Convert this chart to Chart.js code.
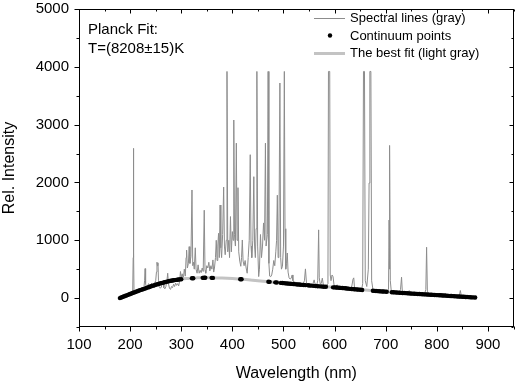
<!DOCTYPE html>
<html><head><meta charset="utf-8">
<script src="https://cdn.jsdelivr.net/npm/chart.js@4.4.1/dist/chart.umd.min.js"></script>
<style>html,body{margin:0;padding:0;background:#fff}#wrap{width:515px;height:383px;position:relative}canvas{display:block}</style>
</head><body><div id="wrap"><canvas id="c" width="515" height="383"></canvas></div>
<script>
// ---- data ----
const specWl = [
180,183,186,189,192,195,198,201,203,205,206,206.5,207,207.6,210,213,216,219,222,225,227,228.3,229.3,230.3,232,234,236,238,240,242,
244,246,248,250,251.5,252.5,253.5,254.5,255.5,257,259,261,263,264.5,266,268,270,272,273.5,275,277,279,281,283,285,287,289,291,293,295,
297,298.5,300,302,304,306,308,309.5,310.5,312,314,315.5,317,319,321,322.5,324,325.5,327.5,329,331,333,335,337,339,341,343,345,346.5,348,
350,352,354,356,358,360,362,363.5,365,367,368.5,370,371.5,373,374.5,376,377.5,379,381,383,384.5,386,388,389.5,391,393,394.5,396.3,398,400,
401.5,402.8,404.2,406,407.8,409.2,411,412.5,414.5,416.5,418,419.5,421,423,425,427,429,431,433,435,436.5,438,440,442,443.5,445,446.5,448,449.5,451.5,
453,455,457,459,461,463,464.7,466,468.5,470,471.5,473,475,477,479,481,483,485,486.5,488,489.5,491,493,494.5,496,498,500,501.7,503,504.5,
506,507.5,509,511,513,515,517,518.5,521,524,527,530,533,536,539,541,543,545,548,551,554,557,560,562,565,567,568.8,570,572,574,
576,578,581,584,587,588,590.5,591.5,593,595,597,599,602,605,608,612,616,620,623,627,630,633,636,637.5,639,642,646,650,653,655,
656.5,658.5,660,663,666,667.5,669,671,672.5,675,678,681,684,688,692,696,700,703,705.5,706.6,707.2,708,709,711,714,718,722,726,729,731,
732.5,736,740,744,746,748,752,756,760,764,768,772,776,778.5,780,781.5,785,790,795,800,806,812,817,819,825,830,835,840,844,846,
848,852,858,864,870,875];
const specInt = [
5,15,28,38,45,55,62,75,85,95,700,2590,800,110,115,125,118,140,150,165,180,300,510,250,170,200,250,210,190,260,
200,230,260,300,450,620,560,610,300,200,170,190,260,300,180,160,200,300,430,250,170,150,200,180,240,200,260,220,250,210,
300,460,360,420,320,500,380,700,830,520,600,890,600,720,1870,560,620,500,870,500,430,575,430,480,440,520,460,1520,480,430,
560,520,620,470,560,500,660,450,520,700,1000,650,900,1120,700,1610,870,700,1100,1920,900,750,1000,3920,800,1000,700,1410,800,1150,
1000,3080,1100,900,2680,1000,1910,800,640,550,700,1005,640,560,650,520,430,700,1000,2480,900,700,1000,2100,900,700,1200,3920,900,372,
500,1100,700,900,1300,1000,2680,900,1100,3920,600,380,370,400,500,650,560,800,1000,1780,700,900,3720,700,500,550,900,3920,1200,500,
600,780,450,350,330,340,400,300,280,270,260,250,250,240,260,300,505,260,240,230,240,230,315,230,220,300,1180,350,240,260,
345,230,220,210,250,3920,3920,400,300,400,370,220,200,230,190,180,200,190,175,170,180,170,327,350,170,160,160,150,150,250,
3920,3920,300,200,500,1990,3920,3920,300,150,130,140,125,120,115,110,110,120,150,1350,500,2640,300,110,100,95,100,90,150,362,
110,85,80,90,130,80,75,70,72,65,70,65,70,150,880,120,60,55,52,50,48,46,80,45,40,38,35,32,35,131,
40,25,22,20,15,12];
const contWl = [
180,182.5,185,187.5,190,192.5,195,197.5,200,202.5,205,207.5,210,212.5,215,217.5,220,222.5,225,227.5,230,232.5,235,237.5,240,242.5,245,247.5,250,252.5,
255,257.5,260,262.5,265,267.5,270,272.5,275,277.5,280,282.5,285,287.5,290,292.5,295,297.5,300,321,323.5,342,344.5,347,359.5,362,415.5,418,470.5,473,
484,487,495,498,501,504,507,510,513,516,519,522,525,528,531,534,537,540,543,548,551,555,559,563,567,571,575,579,583,597,
600,603,606,609,612,615,618,621,624,627,630,633,636,639,642,645,648,651,654,675,678,681,684,687,690,693,696,699,702,712,
715,718,721,724,727,730,733,736,739,742,745,748,751,754,757,760,763,766,769,772,775,778,781,784,787,790,793,796,799,802,
805,808,811,814,817,820,823,826,829,832,835,838,841,844,847,850,853,856,859,862,865,868,871,875];
const contInt = [
0,10,18,27,36,45,52,62,70,80,88,96,104,113,120,130,138,146,154,160,168,177,185,192,200,208,215,222,230,237,
244,251,257,263,268,274,280,285,290,295,300,304,308,311,315,318,321,324,327,342,344,350,351,352,350,349,327,325,283,281,
272,270,263,261,258,255,253,251,249,246,244,241,238,236,234,231,229,227,225,221,219,215,212,209,206,203,200,197,195,186,
185,183,181,178,176,174,172,169,166,163,160,158,155,153,150,148,146,143,141,127,125,123,121,119,117,115,113,112,110,102,
100,98,97,95,93,91,89,87,86,84,82,80,78,77,75,73,71,70,68,67,65,64,62,60,58,57,55,54,52,51,
49,48,46,44,43,41,39,37,36,34,32,30,28,27,25,24,22,20,19,17,15,13,12,10];
const fitWl = [178,190,200,210,220,230,240,250,260,270,280,290,300,310,320,330,340,350,360,370,380,390,400,420,440,460,480,500,520,540,
560,580,600,620,640,660,680,700,720,740,760,780,800,820,840,860,878];
const fitInt = [-5,35,69,104,138,168,200,230,257,280,300,315,327,337,344,349,352,352,351,349,346,342,337,325,309,292,276,260,245,228,
213,198,185,171,154,140,126,112,98,86,74,63,52,42,29,18,8];
const xTickLabels = [100,200,300,400,500,600,700,800,900];
const yTickLabels = [0,1000,2000,3000,4000,5000];
const seriesNames = ['Spectral lines (gray)','Continuum points','The best fit (light gray)'];
const noteLines = ['Planck Fit:','T=(8208\u00b115)K'];
const xTitle = 'Wavelength (nm)';
const yTitle = 'Rel. Intensity';

const FONT = '"Liberation Sans", Arial, sans-serif';
const pts = (xs, ys) => xs.map((x, i) => ({x, y: ys[i]}));

const framePlugin = {
  id: 'frame',
  afterDraw(chart) {
    const {ctx, chartArea: a, scales: {x, y}} = chart;
    ctx.save();
    ctx.strokeStyle = '#000'; ctx.lineWidth = 1;
    const L = Math.round(a.left) + 0.5, R = Math.round(a.right) - 0.5;
    const T = Math.round(a.top) + 0.5, B = Math.round(a.bottom) - 0.5;
    ctx.strokeRect(L, T, R - L, B - T);
    ctx.beginPath();
    for (let v = x.min; v <= x.max; v += 50) {
      const major = v % 100 === 0;
      const p = Math.round(x.getPixelForValue(v)) + 0.5;
      ctx.moveTo(p, B); ctx.lineTo(p, B + (major ? 5 : 3));
      ctx.moveTo(p, T); ctx.lineTo(p, T + (major ? 4 : 2));
    }
    for (let v = y.min; v <= y.max; v += 500) {
      const major = v % 1000 === 0;
      const p = Math.round(y.getPixelForValue(v)) + 0.5;
      ctx.moveTo(L, p); ctx.lineTo(L - (major ? 5 : 3), p);
      ctx.moveTo(R, p); ctx.lineTo(R - (major ? 4 : 2), p);
    }
    ctx.stroke();
    // annotation
    ctx.fillStyle = '#000';
    ctx.font = '15px ' + FONT;
    ctx.textBaseline = 'middle'; ctx.textAlign = 'left';
    noteLines.forEach((t, i) => ctx.fillText(t, a.left + 9, a.top + 21 + i * 19));
    // legend
    const ds = chart.data.datasets;
    ctx.font = '13px ' + FONT;
    const lx = 314, ly = a.top + 9, step = 17.5;
    seriesNames.forEach((name, i) => {
      const yy = ly + i * step;
      const d = ds[i];
      if (i === 1) {
        ctx.beginPath(); ctx.fillStyle = d.backgroundColor;
        ctx.arc(lx + 16, yy, d.pointRadius, 0, Math.PI * 2); ctx.fill();
      } else {
        ctx.beginPath(); ctx.strokeStyle = d.borderColor; ctx.lineWidth = d.borderWidth;
        ctx.moveTo(lx, Math.round(yy) + (d.borderWidth % 2 ? 0.5 : 0));
        ctx.lineTo(lx + 31, Math.round(yy) + (d.borderWidth % 2 ? 0.5 : 0)); ctx.stroke();
      }
      ctx.fillStyle = '#000';
      ctx.fillText(name, lx + 36, yy + 0.5);
    });
    ctx.restore();
  }
};

new Chart(document.getElementById('c'), {
  type: 'line',
  data: {
    datasets: [
      {label: seriesNames[0], data: pts(specWl, specInt), borderColor: '#8c8c8c', borderWidth: 1,
       pointRadius: 0, tension: 0, fill: false, order: 3},
      {label: seriesNames[1], data: pts(contWl, contInt), showLine: false, pointRadius: 2.2,
       backgroundColor: '#000', borderColor: '#000', borderWidth: 0, order: 1},
      {label: seriesNames[2], data: pts(fitWl, fitInt), borderColor: '#c3c3c3', borderWidth: 3,
       pointRadius: 0, tension: 0.4, cubicInterpolationMode: 'monotone', fill: false, order: 2}
    ]
  },
  options: {
    responsive: false, animation: false, devicePixelRatio: 1,
    layout: {autoPadding: false, padding: {left: 0, right: 1.5, top: 9, bottom: 0}},
    plugins: {legend: {display: false}, tooltip: {enabled: false}},
    scales: {
      x: {
        type: 'linear', min: 100, max: 950,
        afterBuildTicks: s => { s.ticks = xTickLabels.map(v => ({value: v})); },
        afterFit: s => { s.height = 56; s.paddingLeft = 0; s.paddingRight = 0; },
        grid: {display: false, drawTicks: false},
        border: {display: false},
        ticks: {color: '#000', font: {family: FONT, size: 15}, padding: 9, maxRotation: 0, autoSkip: false,
                callback: v => String(v)},
        title: {display: true, text: xTitle, color: '#000', font: {family: FONT, size: 16}, padding: {top: 0, bottom: 0}}
      },
      y: {
        type: 'linear', min: -500, max: 5000,
        afterBuildTicks: s => { s.ticks = yTickLabels.map(v => ({value: v})); },
        afterFit: s => { s.width = 79; s.paddingTop = 0; s.paddingBottom = 0; s.paddingRight = 0; s.paddingLeft = 0; },
        grid: {display: false, drawTicks: false},
        border: {display: false},
        ticks: {color: '#000', font: {family: FONT, size: 15}, padding: 10, autoSkip: false,
                callback: v => String(v)},
        title: {display: true, text: yTitle, color: '#000', font: {family: FONT, size: 16}, padding: {top: 0, bottom: 0}}
      }
    }
  },
  plugins: [framePlugin]
});
</script></body></html>
